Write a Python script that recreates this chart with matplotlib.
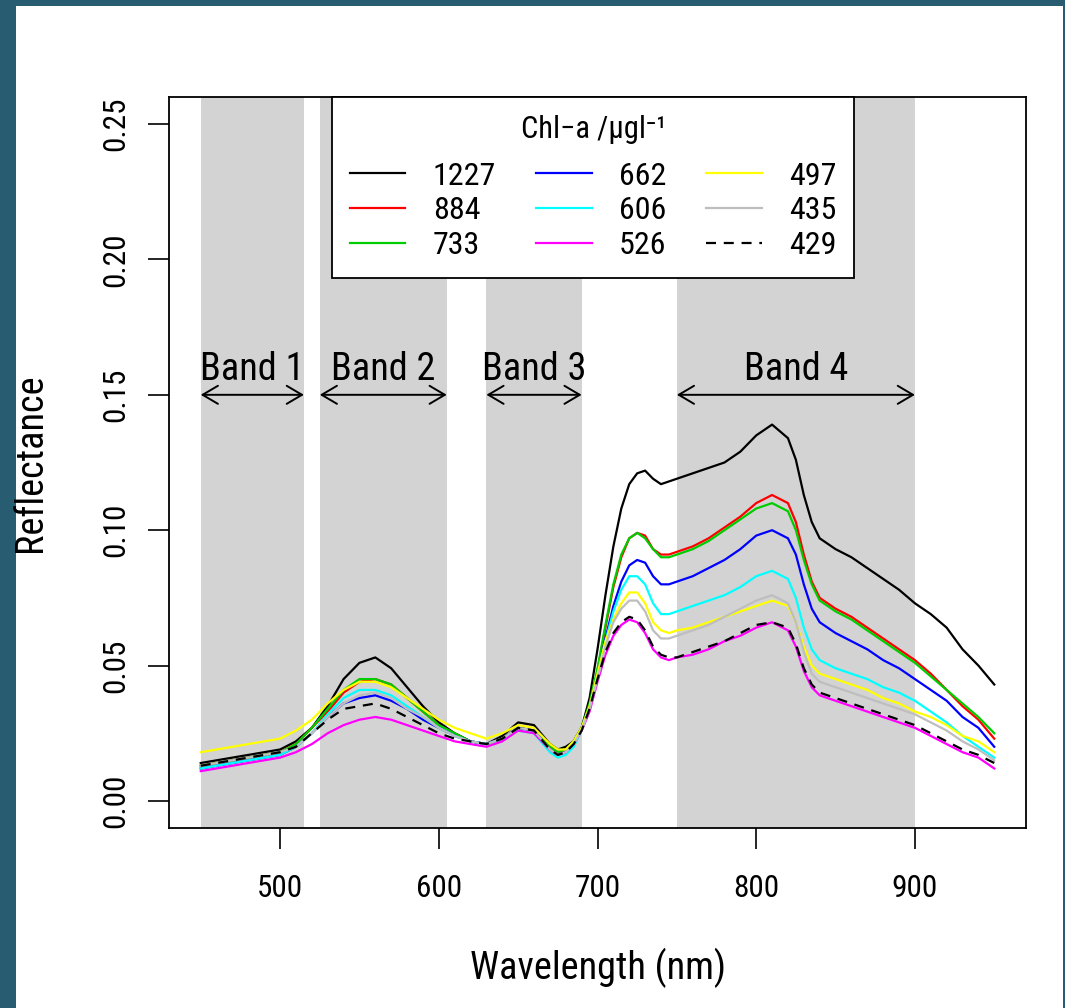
import numpy as np
import matplotlib
matplotlib.use("Agg")
import matplotlib.pyplot as plt
from matplotlib.patches import Rectangle

plt.rcParams['font.family'] = ['Roboto Condensed', 'Liberation Sans', 'DejaVu Sans']

# wavelength grid (nm) and reflectance
wl = [450, 460, 470, 480, 490, 500, 510, 520, 530, 540, 550, 560, 570, 580, 590, 600,
      610, 620, 630, 640, 650, 660, 670, 675, 680, 685, 690, 695, 700, 705, 710, 715,
      720, 725, 730, 735, 740, 745, 750, 760, 770, 780, 790, 800, 810, 820, 825, 830,
      835, 840, 850, 860, 870, 880, 890, 900, 910, 920, 930, 940, 950]

r1227 = [.014, .015, .016, .017, .018, .019, .022, .027, .035, .045, .051, .053, .049, .042, .035, .029,
         .025, .022, .021, .024, .029, .028, .021, .019, .020, .022, .027, .038, .056, .076, .094, .108,
         .117, .121, .122, .119, .117, .118, .119, .121, .123, .125, .129, .135, .139, .134, .126, .113,
         .103, .097, .093, .090, .086, .082, .078, .073, .069, .064, .056, .050, .043]
r884 = [.013, .014, .015, .016, .017, .018, .021, .027, .033, .040, .044, .045, .043, .038, .033, .028,
        .025, .022, .021, .023, .027, .026, .020, .018, .019, .022, .027, .035, .048, .064, .079, .090,
        .097, .099, .098, .093, .091, .091, .092, .094, .097, .101, .105, .110, .113, .110, .103, .091,
        .081, .075, .071, .068, .064, .060, .056, .052, .047, .041, .035, .030, .023]
r733 = [.013, .014, .015, .016, .017, .018, .021, .027, .034, .041, .045, .045, .043, .038, .033, .028,
        .025, .022, .021, .023, .027, .026, .020, .018, .019, .022, .027, .036, .049, .065, .080, .091,
        .097, .099, .097, .093, .090, .090, .091, .093, .096, .100, .104, .108, .110, .107, .100, .089,
        .080, .074, .070, .067, .063, .059, .055, .051, .046, .041, .036, .031, .025]
r662 = [.012, .013, .014, .015, .016, .017, .020, .025, .031, .036, .038, .039, .037, .034, .030, .027,
        .024, .022, .021, .023, .027, .026, .019, .017, .018, .021, .026, .034, .046, .060, .072, .081,
        .087, .089, .088, .083, .080, .080, .081, .083, .086, .089, .093, .098, .100, .097, .091, .080,
        .071, .066, .062, .059, .056, .052, .049, .045, .041, .037, .031, .027, .020]
r606 = [.012, .013, .014, .015, .016, .017, .020, .025, .032, .038, .041, .041, .039, .035, .031, .027,
        .024, .022, .021, .023, .026, .025, .018, .016, .017, .020, .026, .034, .046, .059, .070, .078,
        .083, .083, .080, .073, .069, .069, .070, .072, .074, .076, .079, .083, .085, .082, .075, .064,
        .056, .052, .049, .047, .045, .042, .040, .037, .033, .029, .024, .020, .016]
r526 = [.011, .012, .013, .014, .015, .016, .018, .021, .025, .028, .030, .031, .030, .028, .026, .024,
        .022, .021, .020, .022, .026, .025, .019, .017, .018, .021, .026, .033, .044, .054, .061, .065,
        .067, .066, .062, .056, .053, .052, .053, .054, .056, .059, .061, .064, .066, .063, .057, .048,
        .042, .039, .037, .035, .033, .031, .029, .027, .024, .021, .018, .016, .012]
r497 = [.018, .019, .020, .021, .022, .023, .026, .030, .036, .041, .044, .044, .042, .038, .034, .030,
        .027, .025, .023, .025, .028, .027, .021, .019, .019, .022, .027, .035, .047, .059, .067, .073,
        .077, .077, .073, .066, .063, .062, .063, .064, .066, .068, .070, .072, .074, .072, .066, .057,
        .050, .047, .045, .043, .041, .038, .036, .033, .031, .028, .024, .022, .018]
r435 = [.013, .014, .015, .016, .017, .018, .020, .025, .031, .036, .039, .040, .038, .034, .031, .027,
        .024, .022, .021, .023, .027, .026, .019, .017, .018, .021, .026, .034, .045, .057, .066, .071,
        .074, .074, .070, .063, .060, .060, .061, .063, .065, .068, .071, .074, .076, .073, .066, .055,
        .047, .044, .042, .040, .038, .036, .034, .032, .029, .026, .022, .019, .015]
r429 = [.013, .014, .015, .016, .017, .018, .020, .025, .030, .034, .035, .036, .034, .031, .028, .025,
        .023, .022, .021, .023, .027, .026, .019, .017, .018, .021, .026, .034, .045, .055, .062, .066,
        .068, .067, .063, .057, .054, .053, .053, .055, .057, .059, .062, .065, .066, .064, .058, .049,
        .043, .040, .038, .036, .034, .032, .030, .028, .025, .022, .019, .017, .014]

labels = ['1227', '884', '733', '662', '606', '526', '497', '435', '429']
series = [r1227, r884, r733, r662, r606, r526, r497, r435, r429]
colors = ['black', '#FF0000', '#00CD00', '#0000FF', '#00FFFF', '#FF00FF', '#FFFF00', '#BEBEBE', 'black']

# ETM+ style bands
band_names = ['Band 1', 'Band 2', 'Band 3', 'Band 4']
band_lo = [450, 525, 630, 750]
band_hi = [515, 605, 690, 900]

fig = plt.figure(figsize=(10.65, 10.08), dpi=100)
fig.patch.set_facecolor('#285d71')
fig.add_artist(Rectangle((16/1065, 0), (1063-16)/1065, (1008-6)/1008,
                         transform=fig.transFigure, facecolor='white', edgecolor='none', zorder=-10))

W, H = 1065., 1008.
ax = fig.add_axes([169/W, (H-828)/H, (1026-169)/W, (828-97)/H])

for lo, hi in zip(band_lo, band_hi):
    ax.axvspan(lo, hi, color='#D3D3D3', lw=0, zorder=0)

for s, c, lab in zip(series, colors, labels):
    ls = (0, (4.5, 3.5)) if lab == '429' else '-'
    ax.plot(wl, s, color=c, lw=1.6, ls=ls, label=lab, zorder=2)

for name, lo, hi in zip(band_names, band_lo, band_hi):
    ax.annotate('', xy=(lo, 0.15), xytext=(hi, 0.15),
                arrowprops=dict(arrowstyle='<->,head_length=1.1,head_width=0.65',
                                mutation_scale=10, lw=1.4, color='black',
                                shrinkA=0, shrinkB=0), zorder=3)
    ax.text((lo + hi) / 2, 0.1595, name, ha='center', va='center', fontsize=27.5)

ax.set_xlim(430, 970)
ax.set_ylim(-0.01, 0.26)
ax.set_xticks([500, 600, 700, 800, 900])
ax.set_yticks([0.0, 0.05, 0.10, 0.15, 0.20, 0.25])
ax.set_yticklabels(['0.00', '0.05', '0.10', '0.15', '0.20', '0.25'], rotation=90, va='center')
ax.tick_params(axis='both', labelsize=22.5, length=15, width=1.2, direction='out')
ax.tick_params(axis='x', pad=18)
ax.tick_params(axis='y', pad=13)
for sp in ax.spines.values():
    sp.set_linewidth(1.3)

ax.set_xlabel('Wavelength (nm)', fontsize=27.5, va='center')
ax.set_ylabel('Reflectance', fontsize=27.5, va='center')
ax.xaxis.set_label_coords(0.5, -0.1915)
ax.yaxis.set_label_coords(-0.162, 0.5)

leg = ax.legend(ncol=3, loc='upper center', bbox_to_anchor=(0.495, 1.0), borderaxespad=0,
                title='Chl\u2212a /\u00b5gl\u207b\u00b9', fontsize=23, title_fontsize=22,
                handlelength=1.75, handletextpad=0.85, columnspacing=1.25,
                labelspacing=0.18, borderpad=0.55, fancybox=False, framealpha=1,
                edgecolor='black')
leg._legend_box.sep = 13
leg.get_frame().set_linewidth(1.3)
leg.set_zorder(5)

fig.savefig('out.png', dpi=100, facecolor=fig.get_facecolor())
